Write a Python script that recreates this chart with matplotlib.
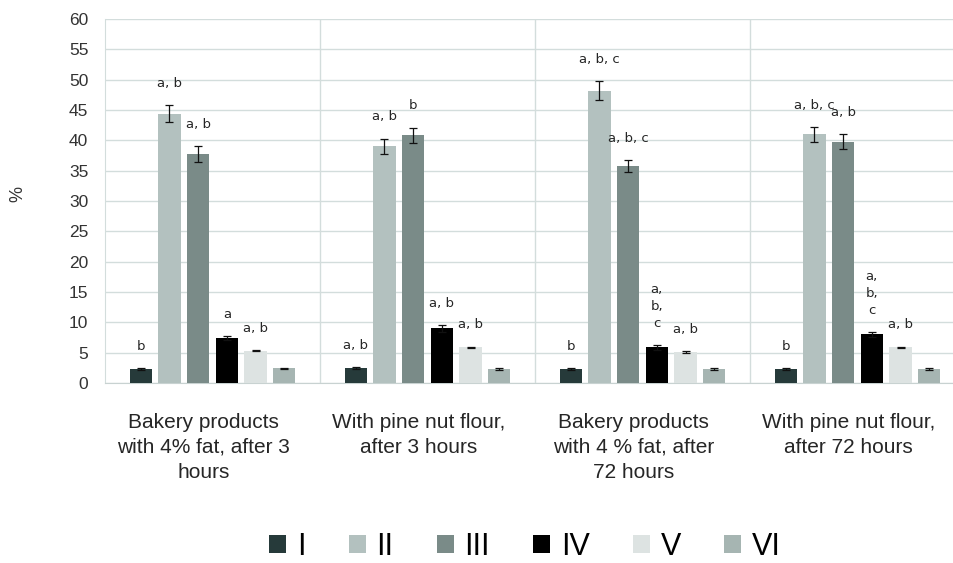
import matplotlib
matplotlib.use('Agg')
import matplotlib.pyplot as plt
import matplotlib.transforms as mtransforms
import numpy as np

groups = ["Bakery products\nwith 4% fat, after 3\nhours",
          "With pine nut flour,\nafter 3 hours",
          "Bakery products\nwith 4 % fat, after\n72 hours",
          "With pine nut flour,\nafter 72 hours"]
series = ["I", "II", "III", "IV", "V", "VI"]

# rows = series, cols = groups
values = [
    [2.3, 2.5, 2.3, 2.3],
    [44.4, 39.0, 48.2, 41.0],
    [37.7, 40.8, 35.7, 39.8],
    [7.4, 9.0, 5.9, 8.0],
    [5.3, 5.9, 5.1, 5.9],
    [2.4, 2.3, 2.3, 2.3],
]
errors = [
    [0.15, 0.15, 0.15, 0.15],
    [1.4, 1.3, 1.5, 1.2],
    [1.3, 1.3, 1.0, 1.2],
    [0.35, 0.6, 0.4, 0.35],
    [0.1, 0.1, 0.1, 0.1],
    [0.15, 0.15, 0.15, 0.15],
]
letters = [
    ["b", "a, b", "b", "b"],
    ["a, b", "a, b", "a, b, c", "a, b, c"],
    ["a, b", "b", "a, b, c", "a, b"],
    ["a", "a, b", "a,\nb,\nc", "a,\nb,\nc"],
    ["a, b", "a, b", "a, b", "a, b"],
    ["", "", "", ""],
]
colors = ['#263a3a', '#b3c1bf', '#7a8b88', '#000000', '#dde3e2', '#a6b5b2']

plt.rcParams['font.family'] = ['Liberation Sans', 'DejaVu Sans']

fig = plt.figure(figsize=(9.54, 5.63), dpi=100)
ax = fig.add_axes([105/954, 180/563, 860/954, 364/563])

x = np.arange(len(groups))
step = 0.1335
width = 0.104
grid_c = '#d3dddc'

for i, s in enumerate(series):
    pos = x + (i - 2.5) * step
    ax.bar(pos, values[i], width=width, color=colors[i], label=s, zorder=3)
    ax.errorbar(pos, values[i], yerr=errors[i], fmt='none', ecolor='#111111',
                elinewidth=0.9, capsize=2.8, capthick=0.9, zorder=4)
    for j in range(len(groups)):
        if letters[i][j]:
            ax.text(pos[j], values[i][j] + errors[i][j] + 2.5, letters[i][j],
                    ha='center', va='bottom', fontsize=9.5, family='DejaVu Sans',
                    color='#262626', linespacing=1.4, zorder=5)

ax.set_xlim(-0.5, len(groups) - 0.5)
ax.set_ylim(0, 60)
ax.set_yticks(np.arange(0, 61, 5))
ax.yaxis.grid(True, color=grid_c, linewidth=1, zorder=0)
for b in np.arange(0.5, len(groups) - 0.5, 1):
    ax.axvline(b, color=grid_c, linewidth=1, zorder=0)

for sp in ['top', 'right']:
    ax.spines[sp].set_visible(False)
ax.spines['left'].set_color(grid_c)
ax.spines['bottom'].set_color('#c8d2d1')

ax.tick_params(axis='y', length=0, pad=12, labelsize=12.5, labelcolor='#333333')
ax.tick_params(axis='x', length=0)
ax.set_xticks([])

shift = mtransforms.ScaledTranslation(-9/100, 0, fig.dpi_scale_trans)
for j, g in enumerate(groups):
    ax.text(j, -4.9, g, ha='center', va='top', fontsize=15, color='#262626',
            linespacing=1.4, transform=ax.transData + shift)

ax.set_ylabel('%', fontsize=13, color='#333333')
ax.yaxis.set_label_coords(-0.092, 0.52)

fig.legend(loc='center', bbox_to_anchor=(525/954, 16/563), ncol=6, frameon=False,
           fontsize=22, handlelength=0.55, handleheight=0.55, handletextpad=0.35,
           columnspacing=1.42)

fig.savefig('out.png', dpi=100)
